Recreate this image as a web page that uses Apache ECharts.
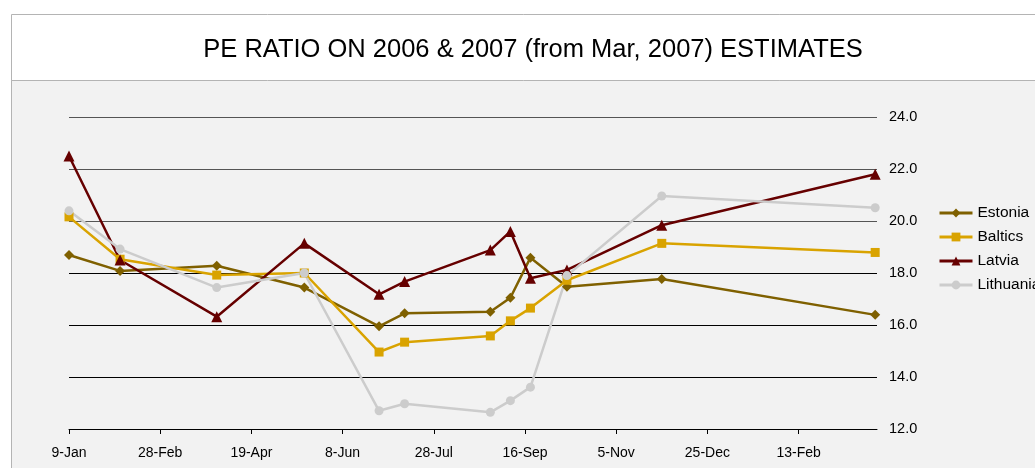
<!DOCTYPE html>
<html>
<head>
<meta charset="utf-8">
<title>PE ratio</title>
<script src="https://cdn.jsdelivr.net/npm/echarts@6/dist/echarts.min.js"></script>
<style>
html, body { margin: 0; padding: 0; background: #fff; }
#chart { width: 1035px; height: 468px; }
</style>
</head>
<body>
<div id="chart"></div>
<script>
// data
const dates = ['2007-01-09', '2007-02-06', '2007-03-31', '2007-05-18', '2007-06-28', '2007-07-12',
  '2007-08-28', '2007-09-08', '2007-09-19', '2007-10-09', '2007-11-30', '2008-03-26'];
const estonia = [18.69, 18.08, 18.28, 17.44, 15.95, 16.45, 16.51, 17.05, 18.59, 17.47, 17.77, 16.39];
const baltics = [20.16, 18.53, 17.92, 18.0, 14.96, 15.34, 15.58, 16.16, 16.65, 17.72, 19.14, 18.79];
const latvia = [22.5, 18.5, 16.32, 19.14, 17.18, 17.67, 18.88, 19.6, 17.8, 18.12, 19.84, 21.8];
const lithuania = [20.39, 18.92, 17.44, 18.0, 12.7, 12.97, 12.64, 13.09, 13.61, 17.9, 20.96, 20.51];
const xTickDates = ['2007-01-09', '2007-02-28', '2007-04-19', '2007-06-08', '2007-07-28',
  '2007-09-16', '2007-11-05', '2007-12-25', '2008-02-13'];
const xEndDate = '2008-03-27';
const yMin = 12, yMax = 24, yStep = 2;

const months = ['Jan', 'Feb', 'Mar', 'Apr', 'May', 'Jun', 'Jul', 'Aug', 'Sep', 'Oct', 'Nov', 'Dec'];
const base = Date.UTC(2007, 0, 9);
function toDay(s) {
  const p = s.split('-').map(Number);
  return Math.round((Date.UTC(p[0], p[1] - 1, p[2]) - base) / 86400000);
}
function dayLabel(v) {
  const d = new Date(base + v * 86400000);
  return d.getUTCDate() + '-' + months[d.getUTCMonth()];
}
const days = dates.map(toDay);
const pairs = vals => vals.map((v, i) => [days[i], v]);

const font = "'Liberation Sans', Arial, sans-serif";
const chart = echarts.init(document.getElementById('chart'));

function makeSeries(name, vals, color, symbol, size) {
  return {
    name: name,
    type: 'line',
    data: pairs(vals),
    symbol: symbol,
    symbolSize: size,
    showSymbol: true,
    lineStyle: { color: color, width: 2.5 },
    itemStyle: { color: color },
    emphasis: { disabled: true }
  };
}

chart.setOption({
  animation: false,
  textStyle: { fontFamily: font },
  graphic: [
    {
      type: 'rect', z: -10, silent: true,
      shape: { x: 11.5, y: 14.5, width: 1040, height: 470 },
      style: { fill: '#fff', stroke: '#b4b4b4', lineWidth: 1 }
    },
    {
      type: 'rect', z: -9, silent: true,
      shape: { x: 11.5, y: 80.5, width: 1040, height: 400 },
      style: { fill: '#f2f2f2', stroke: '#b4b4b4', lineWidth: 1 }
    }
  ],
  title: {
    text: 'PE RATIO ON 2006 & 2007 (from Mar, 2007) ESTIMATES',
    left: 528,
    top: 32,
    textAlign: 'center',
    textStyle: { fontSize: 25.5, fontWeight: 'normal', color: '#000', fontFamily: font }
  },
  legend: {
    orient: 'vertical',
    left: 938,
    top: 205,
    padding: 0,
    itemWidth: 33,
    itemHeight: 11,
    itemGap: 8,
    lineStyle: { width: 3 },
    textStyle: { fontSize: 15.5, color: '#000', fontFamily: font },
    data: ['Estonia', 'Baltics', 'Latvia', 'Lithuania']
  },
  grid: { left: 69, right: 158, top: 117, bottom: 39, outerBoundsMode: 'none' },
  xAxis: {
    type: 'value',
    min: 0,
    max: toDay(xEndDate),
    axisLine: { lineStyle: { color: '#000', width: 1 } },
    axisTick: { show: true, length: 5, customValues: xTickDates.map(toDay), lineStyle: { color: '#000' } },
    axisLabel: {
      customValues: xTickDates.map(toDay),
      formatter: dayLabel,
      margin: 17,
      fontSize: 14,
      color: '#000',
      fontFamily: font
    },
    splitLine: { show: false }
  },
  yAxis: {
    type: 'value',
    position: 'right',
    min: yMin,
    max: yMax,
    interval: yStep,
    axisLine: { show: false },
    axisTick: { show: false },
    axisLabel: {
      formatter: v => v.toFixed(1),
      margin: 12,
      fontSize: 14.5,
      color: '#000',
      fontFamily: font
    },
    splitLine: {
      lineStyle: { color: ['#000', '#000', '#000', '#000', '#555', '#555', '#555'], width: 1 }
    }
  },
  series: [
    makeSeries('Estonia', estonia, '#7f6000', 'diamond', 10),
    makeSeries('Baltics', baltics, '#d9a300', 'rect', 9),
    makeSeries('Latvia', latvia, '#660000', 'triangle', 11),
    makeSeries('Lithuania', lithuania, '#cccccc', 'circle', 9)
  ]
});
</script>
</body>
</html>
